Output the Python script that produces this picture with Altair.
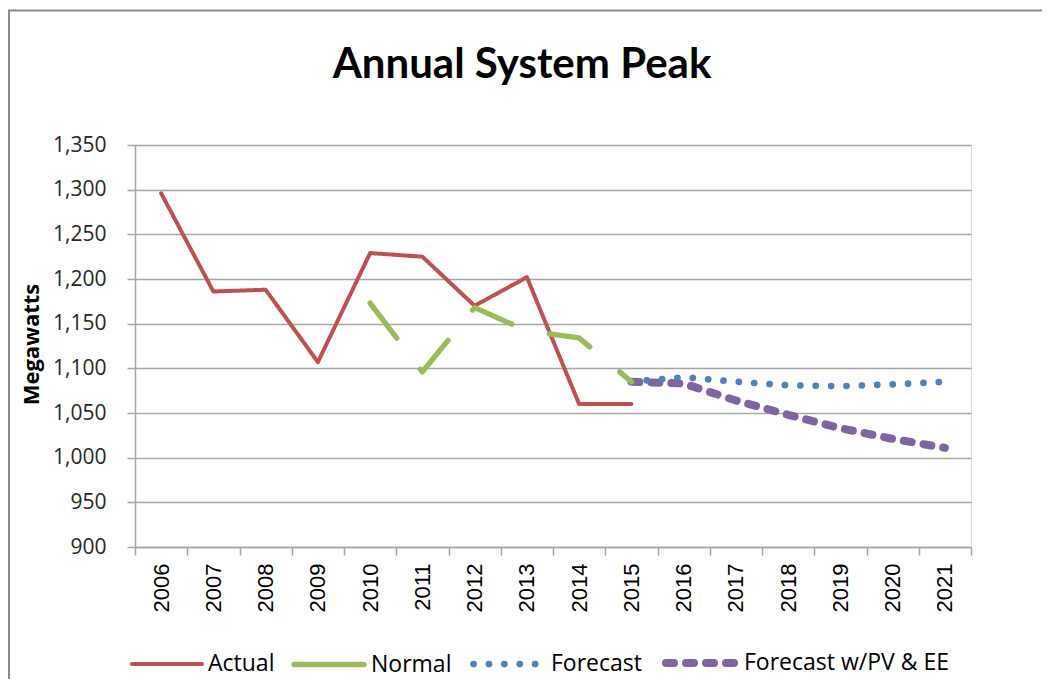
import altair as alt
import pandas as pd

# ---- data ----
years_actual = [2006, 2007, 2008, 2009, 2010, 2011, 2012, 2013, 2014, 2015]
actual = [1296, 1186, 1188, 1107, 1229, 1225, 1170, 1202, 1060, 1060]

years_normal = [2010, 2011, 2012, 2013, 2014, 2015]
normal = [1173, 1096, 1168, 1142, 1134, 1085]

years_forecast = [2015, 2016, 2017, 2018, 2019, 2020, 2021]
forecast = [1085, 1090, 1085, 1081, 1080, 1082, 1085]
forecast_pv = [1085, 1083, 1064, 1048, 1033, 1021, 1011]

all_years = list(range(2006, 2022))
y_ticks = list(range(900, 1351, 50))

series_names = ["Actual", "Normal", "Forecast", "Forecast w/PV & EE"]
series_colors = ["#C0504D", "#9BBB59", "#4F81BD", "#8064A2"]
series_dash = [[1, 0], [44, 39], [0.1, 15.3], [8, 12]]
series_width = [4, 8, 6, 4]

rows = []
for y, v in zip(years_actual, actual):
    rows.append({"year": y, "value": v, "series": "Actual"})
for y, v in zip(years_forecast, forecast_pv):
    rows.append({"year": y, "value": v, "series": "Forecast w/PV & EE"})
for y, v in zip(years_forecast, forecast):
    rows.append({"year": y, "value": v, "series": "Forecast"})
for y, v in zip(years_normal, normal):
    rows.append({"year": y, "value": v, "series": "Normal"})
df = pd.DataFrame(rows)

grid_col = "#A6A6A6"
frame_col = "#898989"

legend = alt.Legend(
    title=None,
    orient="none",
    legendX=-5,
    legendY=479,
    direction="horizontal",
    symbolType="stroke",
    symbolSize=4900,
    labelFont="Open Sans",
    labelFontSize=23,
    labelColor="#000000",
    labelOffset=4,
    labelLimit=400,
    columnPadding=8,
    padding=0,
)

chart = (
    alt.Chart(df)
    .mark_line(strokeCap="round", strokeJoin="round")
    .encode(
        x=alt.X(
            "year:O",
            bandPosition=0.5,
            scale=alt.Scale(type="band", domain=all_years, paddingInner=0, paddingOuter=0),
            axis=alt.Axis(
                title=None,
                labelAngle=-90,
                tickBand="extent",
                tickSize=8,
                labelPadding=8,
                labelFont="Liberation Sans",
                labelFontSize=22,
                labelColor="#000000",
                domainColor=grid_col,
                domainWidth=1.5,
                tickColor=grid_col,
                tickWidth=1.5,
                grid=False,
            ),
        ),
        y=alt.Y(
            "value:Q",
            scale=alt.Scale(domain=[900, 1350], nice=False, zero=False),
            axis=alt.Axis(
                title="Megawatts",
                values=y_ticks,
                format=",.0f",
                tickSize=8,
                labelPadding=21,
                labelFont="Open Sans",
                labelFontSize=21,
                labelColor="#262626",
                titleFont="Open Sans",
                titleFontSize=22,
                titleFontWeight="bold",
                titleColor="#000000",
                titleAngle=-90,
                titleX=-104,
                titleY=199,
                titleAlign="center",
                titleBaseline="middle",
                domainColor=grid_col,
                domainWidth=1.5,
                tickColor=grid_col,
                tickWidth=1.5,
                gridColor=grid_col,
                gridWidth=1.5,
            ),
        ),
        color=alt.Color(
            "series:N",
            scale=alt.Scale(domain=series_names, range=series_colors),
            legend=legend,
        ),
        strokeDash=alt.StrokeDash(
            "series:N",
            scale=alt.Scale(domain=series_names, range=series_dash),
            legend=legend,
        ),
        strokeWidth=alt.StrokeWidth(
            "series:N",
            scale=alt.Scale(domain=series_names, range=series_width),
            legend=legend,
        ),
    )
    .properties(
        width=836,
        height=402,
        title=alt.Title(
            "Annual System Peak",
            font="Lato",
            fontSize=42,
            fontWeight="bold",
            color="#000000",
            anchor="middle",
            frame="group",
            baseline="alphabetic",
            offset=-111.5,
            dx=-31,
        ),
        autosize=alt.AutoSizeParams(type="none"),
        padding={"left": 127, "top": 137, "right": 71, "bottom": 132},
    )
    .configure_view(stroke=None)
    .configure(background="#FFFFFF")
)

# Vega patch: round caps for the legend symbols (dotted series needs them),
# Normal shown solid in the legend, and the chart-area frame (top and left edges).
patch = [
    {
        "op": "add",
        "path": "/legends/0/encode",
        "value": {
            "symbols": {
                "update": {
                    "strokeCap": {"value": "round"},
                    "strokeDash": {
                        "signal": "datum.value === 'Normal' ? [1, 0] : scale('strokeDash', datum.value)"
                    },
                }
            }
        },
    },
    {
        "op": "add",
        "path": "/marks/-",
        "value": {
            "type": "rule",
            "encode": {
                "update": {
                    "x": {"value": -126},
                    "x2": {"value": 915},
                    "y": {"value": -134.5},
                    "y2": {"value": -134.5},
                    "stroke": {"value": frame_col},
                    "strokeWidth": {"value": 2},
                }
            },
        },
    },
    {
        "op": "add",
        "path": "/marks/-",
        "value": {
            "type": "rule",
            "encode": {
                "update": {
                    "x": {"value": -126},
                    "x2": {"value": -126},
                    "y": {"value": -135.5},
                    "y2": {"value": 545},
                    "stroke": {"value": frame_col},
                    "strokeWidth": {"value": 2},
                }
            },
        },
    },
]

chart.save(
    "out.html",
    embed_options={"renderer": "svg", "actions": False, "patch": patch},
)
